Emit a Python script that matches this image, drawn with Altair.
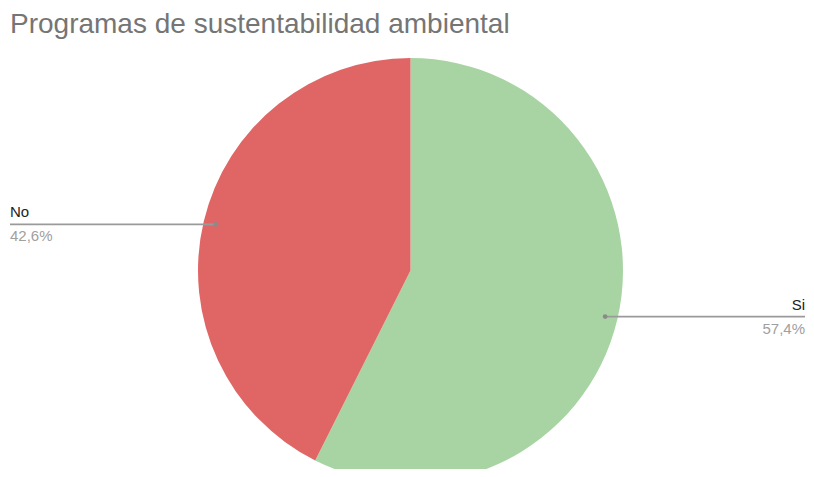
import math
import altair as alt
import pandas as pd

# Data
categories = ["Si", "No"]
values = [57.4, 42.6]
pct_labels = ["57,4%", "42,6%"]
colors = ["#a8d4a3", "#e06666"]
title_text = "Programas de sustentabilidad ambiental"

# Layout (pixels in the plot area)
W, H = 798, 461
CX, CY, R = 402.5, 262.5, 212.5
R_DOT = 200
LEFT_END, RIGHT_END = 2, 797

total = sum(values)
rows = []
cum = 0.0
for i, (c, v, p) in enumerate(zip(categories, values, pct_labels)):
    mid = (cum + v / 2) / total * 2 * math.pi
    cum += v
    dx = math.sin(mid)
    px = CX + R_DOT * dx
    py = CY - R_DOT * math.cos(mid)
    right = dx >= 0
    rows.append(dict(cat=c, value=v, pct=p, ord=i, px=px, py=py,
                     ex=RIGHT_END if right else LEFT_END,
                     side="right" if right else "left"))
df = pd.DataFrame(rows)

xs = alt.Scale(domain=[0, W], range=[0, W])
ys = alt.Scale(domain=[0, H], range=[0, H])

base = alt.Chart(df)

pie = base.mark_arc(outerRadius=R).encode(
    theta=alt.Theta("value:Q", stack=True),
    order=alt.Order("ord:Q"),
    color=alt.Color("cat:N", scale=alt.Scale(domain=categories, range=colors), legend=None),
    x=alt.value(CX),
    y=alt.value(CY),
)

rule = base.mark_rule(color="#9a9a9a", strokeWidth=1.6).encode(
    x=alt.X("px:Q", scale=xs, axis=None),
    x2="ex:Q",
    y=alt.Y("py:Q", scale=ys, axis=None),
)

dots = base.mark_circle(color="#8a8a8a", size=22, opacity=1).encode(
    x=alt.X("px:Q", scale=xs, axis=None),
    y=alt.Y("py:Q", scale=ys, axis=None),
)

def labels(side, align):
    d = base.transform_filter(alt.datum.side == side)
    name = d.mark_text(align=align, baseline="alphabetic", dy=-7, fontSize=15,
                       font="Liberation Sans", color="#222222").encode(
        x=alt.X("ex:Q", scale=xs, axis=None),
        y=alt.Y("py:Q", scale=ys, axis=None),
        text="cat:N",
    )
    pct = d.mark_text(align=align, baseline="alphabetic", dy=17, fontSize=15,
                      font="Liberation Sans", color="#a0a0a0").encode(
        x=alt.X("ex:Q", scale=xs, axis=None),
        y=alt.Y("py:Q", scale=ys, axis=None),
        text="pct:N",
    )
    return name + pct

title = alt.Chart(pd.DataFrame({"t": [title_text]})).mark_text(
    align="left", baseline="alphabetic", fontSize=28, font="Liberation Sans", color="#757575"
).encode(x=alt.value(2), y=alt.value(25), text="t:N")

chart = alt.layer(pie, rule, dots, labels("left", "left"), labels("right", "right"), title).properties(
    width=W, height=H, autosize=alt.AutoSizeParams(type="none"), padding=0, background="white"
).configure_view(stroke=None, strokeWidth=0)

chart.save("out.html", embed_options={"renderer": "svg", "actions": False})
